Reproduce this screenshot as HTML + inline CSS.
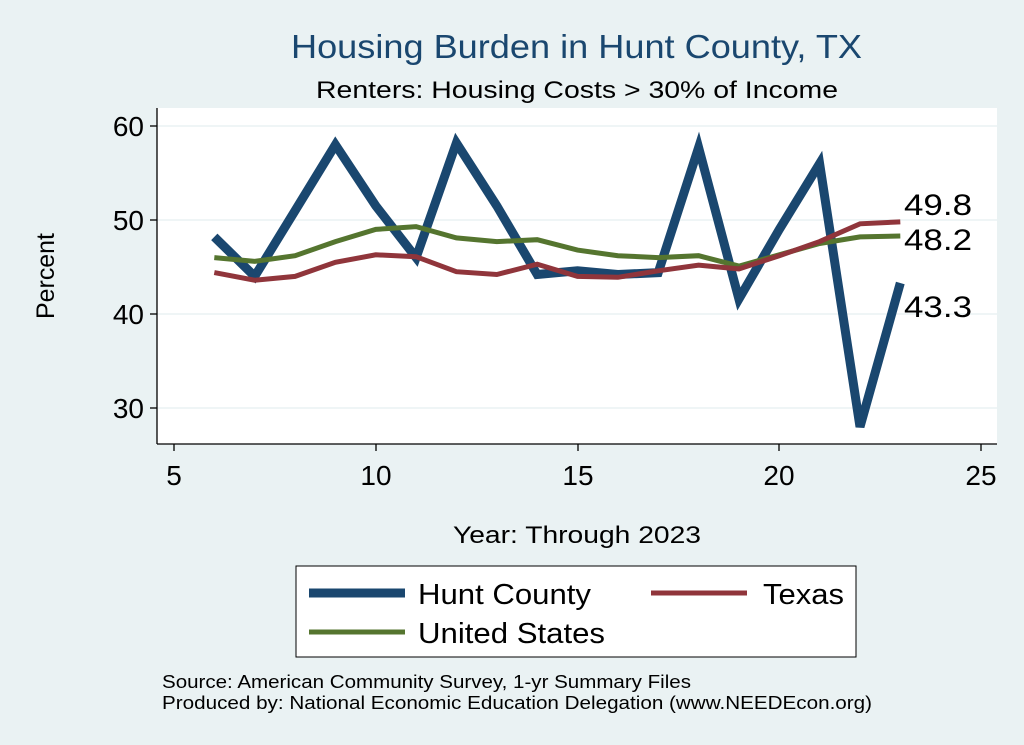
<!DOCTYPE html>
<html><head><meta charset="utf-8"><style>
html,body{margin:0;padding:0;background:#eaf2f3;}
svg{display:block;font-family:"Liberation Sans",sans-serif;}
</style></head><body>
<svg id="s" width="1024" height="745" viewBox="0 0 1024 745" xmlns="http://www.w3.org/2000/svg">
<rect width="1024" height="745" fill="#eaf2f3"/>
<rect x="157" y="108" width="840" height="336" fill="#ffffff"/>
<g stroke="#eaf2f3" stroke-width="1.5">
<line x1="157" x2="997" y1="126" y2="126"/><line x1="157" x2="997" y1="220" y2="220"/>
<line x1="157" x2="997" y1="314" y2="314"/><line x1="157" x2="997" y1="408" y2="408"/>
</g>
<g stroke="#000" stroke-width="1.3">
<line x1="157" y1="108" x2="157" y2="444"/><line x1="157" y1="444" x2="997" y2="444"/>
<line x1="150" x2="157" y1="126" y2="126"/><line x1="150" x2="157" y1="220" y2="220"/>
<line x1="150" x2="157" y1="314" y2="314"/><line x1="150" x2="157" y1="408" y2="408"/>
<line y1="444" y2="451" x1="174" x2="174"/><line y1="444" y2="451" x1="376" x2="376"/>
<line y1="444" y2="451" x1="578" x2="578"/><line y1="444" y2="451" x1="779" x2="779"/>
<line y1="444" y2="451" x1="981" x2="981"/>
</g>
<g font-size="28" text-anchor="end" fill="#000">
<text x="144" y="136">60</text><text x="144" y="230">50</text><text x="144" y="324">40</text><text x="144" y="418">30</text>
</g>
<g font-size="28" text-anchor="middle" fill="#000">
<text x="174" y="485">5</text><text x="376" y="485">10</text><text x="578" y="485">15</text><text x="779" y="485">20</text><text x="981" y="485">25</text>
</g>
<text x="291" y="58" font-size="33" textLength="571" lengthAdjust="spacingAndGlyphs" fill="#1a476f">Housing Burden in Hunt County, TX</text>
<text x="316" y="98" font-size="24" textLength="522" lengthAdjust="spacingAndGlyphs">Renters: Housing Costs &gt; 30% of Income</text>
<text x="453" y="543" font-size="24" textLength="248" lengthAdjust="spacingAndGlyphs">Year: Through 2023</text>
<text transform="translate(54,276) rotate(-90)" font-size="25" text-anchor="middle" textLength="86" lengthAdjust="spacingAndGlyphs">Percent</text>
<g id="lines" fill="none" stroke-linejoin="miter"></g>
<g font-size="30">
<text x="904" y="215" textLength="68" lengthAdjust="spacingAndGlyphs">49.8</text><text x="904" y="250" textLength="68" lengthAdjust="spacingAndGlyphs">48.2</text><text x="904" y="317" textLength="68" lengthAdjust="spacingAndGlyphs">43.3</text>
</g>
<rect x="296" y="566" width="560" height="91" fill="#fff" stroke="#000" stroke-width="1"/>
<line x1="309" x2="405" y1="593" y2="593" stroke="#1a476f" stroke-width="9"/>
<text x="418" y="604" font-size="29" textLength="173" lengthAdjust="spacingAndGlyphs">Hunt County</text>
<line x1="651" x2="747" y1="593" y2="593" stroke="#90353b" stroke-width="5"/>
<text x="763" y="604" font-size="29" textLength="81" lengthAdjust="spacingAndGlyphs">Texas</text>
<line x1="309" x2="405" y1="632" y2="632" stroke="#55752f" stroke-width="5"/>
<text x="418" y="643" font-size="29" textLength="187" lengthAdjust="spacingAndGlyphs">United States</text>
<text x="162" y="688" font-size="18" textLength="529" lengthAdjust="spacingAndGlyphs">Source: American Community Survey, 1-yr Summary Files</text>
<text x="162" y="709" font-size="18" textLength="710" lengthAdjust="spacingAndGlyphs">Produced by: National Economic Education Delegation (www.NEEDEcon.org)</text>
</svg>
<script>
var hunt=[48.2,44,51,58,51.5,46,58.2,51.5,44.2,44.6,44.2,44.4,57.7,41.6,49,56,28,43.3];
var tx=[44.4,43.6,44,45.5,46.3,46.1,44.5,44.2,45.3,44,43.9,44.6,45.2,44.8,46.2,47.7,49.6,49.8];
var us=[46,45.6,46.2,47.7,49,49.3,48.1,47.7,47.9,46.8,46.2,46,46.2,45.1,46.3,47.5,48.2,48.3];
function pts(a){return a.map(function(v,i){return (174+(i+1)*40.35).toFixed(1)+","+(126+(60-v)*9.4).toFixed(1)}).join(" ");}
var g=document.getElementById("lines"),ns="http://www.w3.org/2000/svg";
[[hunt,"#1a476f",9],[us,"#55752f",5],[tx,"#90353b",5]].forEach(function(s){
var p=document.createElementNS(ns,"polyline");p.setAttribute("points",pts(s[0]));p.setAttribute("stroke",s[1]);p.setAttribute("stroke-width",s[2]);g.appendChild(p);});
</script>
</body></html>
